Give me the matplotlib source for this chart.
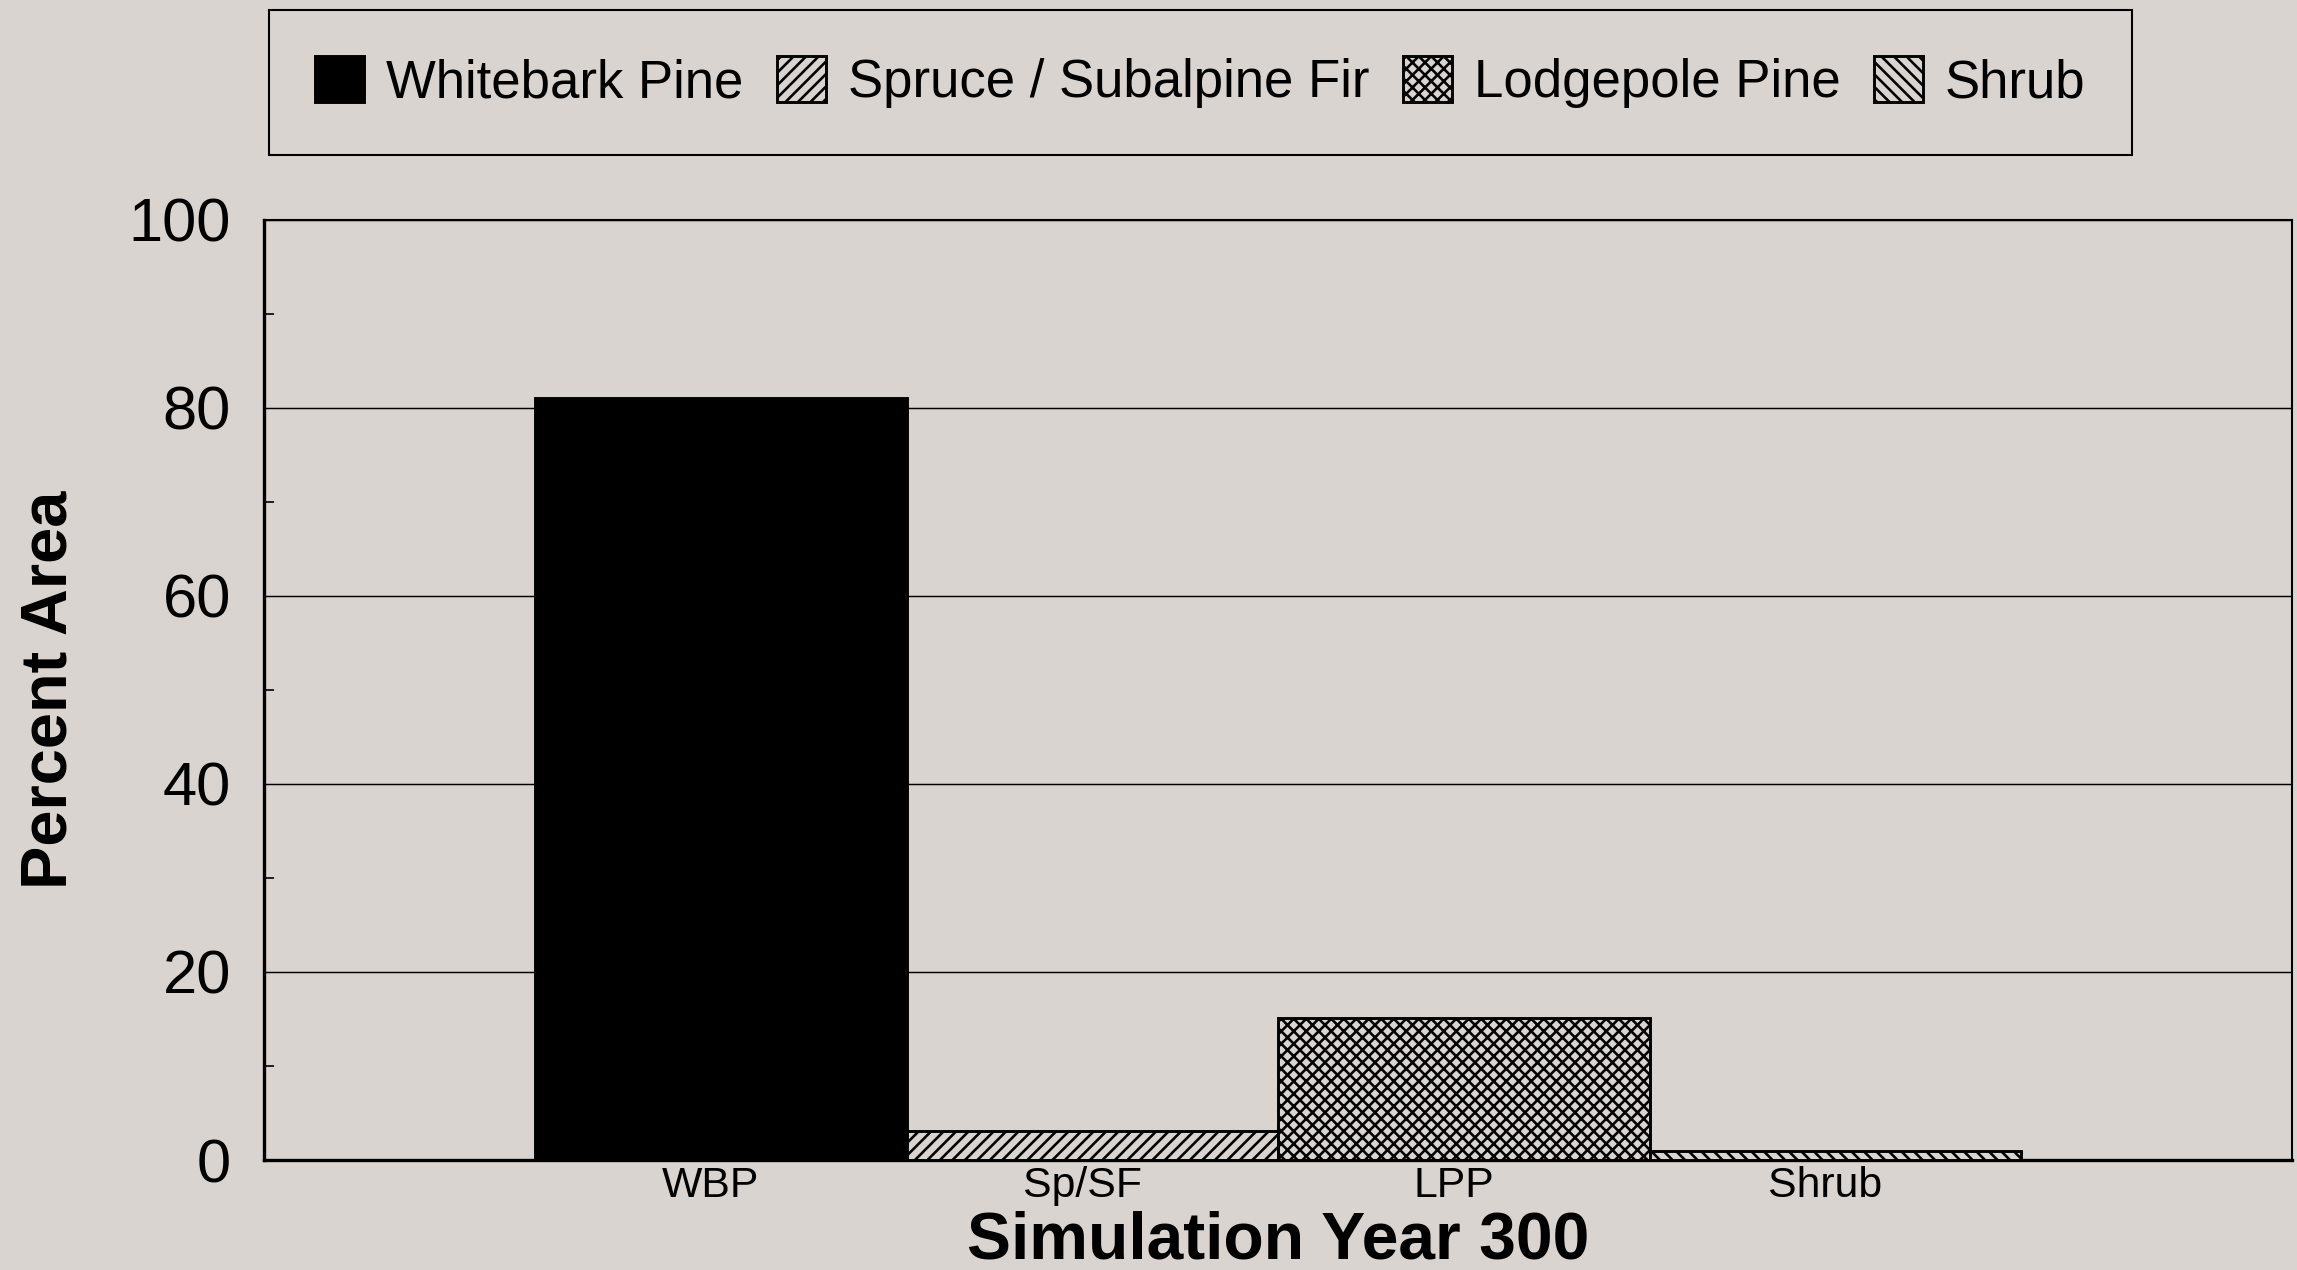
import numpy as np
import matplotlib
matplotlib.use('Agg')
import matplotlib.pyplot as plt
from matplotlib.ticker import MultipleLocator

categories = ['WBP', 'Sp/SF', 'LPP', 'Shrub']
legend_labels = ['Whitebark Pine', 'Spruce / Subalpine Fir', 'Lodgepole Pine', 'Shrub']
percent_area = [81.0, 3.1, 15.1, 1.0]

bg = '#dad4d0'
fills = ['black', bg, bg, bg]
hatches = [None, '////', 'xxxx', '\\\\\\\\']

plt.rcParams['font.family'] = ['Liberation Sans', 'DejaVu Sans']
plt.rcParams['hatch.linewidth'] = 1.25

fig = plt.figure(figsize=(2297 / 150, 1270 / 150), dpi=150, facecolor=bg)
ax = fig.add_axes([0.115, 0.0866, 0.883, 0.7404])
ax.set_facecolor(bg)

x = np.arange(len(categories))
bars = []
for i in range(len(categories)):
    b = ax.bar(x[i], percent_area[i], width=1.0, color=fills[i], hatch=hatches[i],
               edgecolor='black', linewidth=1.4, label=legend_labels[i], zorder=3)
    bars.append(b)

ax.set_xlim(-1.23, 4.23)
ax.set_ylim(0, 100)
ax.set_yticks([0, 20, 40, 60, 80, 100])
ax.yaxis.set_minor_locator(MultipleLocator(10))
# category labels sit a little left of the bar centres in the original
ax.set_xticks(x - 0.028)
ax.set_xticklabels(categories, fontsize=20.5)
ax.tick_params(axis='x', length=0, pad=3)
ax.tick_params(axis='y', which='major', direction='in', length=0, labelsize=29.5, pad=16)
ax.tick_params(axis='y', which='minor', direction='in', length=5, width=0.8)

ax.grid(axis='y', which='major', color='black', linewidth=0.7)
ax.set_axisbelow(True)
for s in ax.spines.values():
    s.set_linewidth(1.0)
ax.spines['left'].set_linewidth(1.6)
ax.spines['bottom'].set_linewidth(1.6)

ax.set_xlabel('Simulation Year 300', fontsize=31.7, fontweight='bold', labelpad=2)
ax.set_ylabel('Percent Area', fontsize=31.2, fontweight='bold')
ax.yaxis.set_label_coords(-0.091, 0.5)

leg = fig.legend(handles=[b[0] for b in bars], labels=legend_labels, loc='center',
                 bbox_to_anchor=(0.5226, 0.9354), ncol=4, fontsize=25.3,
                 borderpad=0.88, handletextpad=0.42, columnspacing=0.64,
                 handlelength=0.92, handleheight=0.97, fancybox=False,
                 framealpha=1, facecolor=bg, edgecolor='black')
leg.get_frame().set_linewidth(1.0)

fig.savefig('out.png', dpi=150, facecolor=bg)
